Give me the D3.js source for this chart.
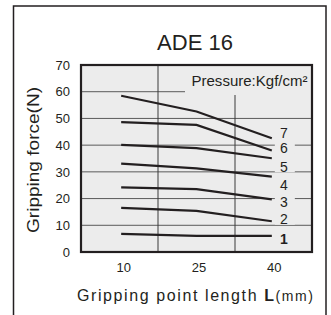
<!DOCTYPE html>
<html>
<head>
<meta charset="utf-8">
<script src="https://cdn.jsdelivr.net/npm/d3@7"></script>
<style>
  body { margin: 0; background: #fff; }
  svg { display: block; font-family: Arial, "Liberation Sans", sans-serif; }
  .tick text { fill: #231f20; }
</style>
</head>
<body>
<svg id="chart" width="331" height="315"></svg>
<script>
// data
var lengths = [10, 25, 40];
var xTicks = [10, 25, 40];
var yTicks = [0, 10, 20, 30, 40, 50, 60, 70];
var pressures = ["1", "2", "3", "4", "5", "6", "7"];
var force1 = [6.8, 6.0, 6.0];
var force2 = [16.5, 15.4, 11.5];
var force3 = [24.2, 23.5, 19.7];
var force4 = [33.1, 31.3, 28.2];
var force5 = [40.1, 38.9, 35.1];
var force6 = [48.6, 47.6, 38.0];
var force7 = [58.5, 52.6, 42.6];
var forces = [force1, force2, force3, force4, force5, force6, force7];

// label nudges in px (layout only)
var labelNudge = [2.5, -2, 3, 8.5, 8.5, -2.5, -5.5];

var svg = d3.select("#chart"),
    margin = {top: 65, right: 19, bottom: 63, left: 81},
    width = +svg.attr("width") - margin.left - margin.right,
    height = +svg.attr("height") - margin.top - margin.bottom;

var ink = "#231f20", plotBg = "#ececec";

var x = d3.scaleLinear().domain([2, 48]).range([0, width]);
var y = d3.scaleLinear().domain([0, 70]).range([height, 0]);

// outer frame
svg.append("rect")
    .attr("x", 13.5).attr("y", 6)
    .attr("width", 312.5).attr("height", 320)
    .attr("fill", "none").attr("stroke", ink).attr("stroke-width", 1.5);

svg.append("text")
    .attr("x", 195).attr("y", 50)
    .attr("text-anchor", "middle")
    .attr("font-size", 22)
    .attr("fill", ink)
    .text("ADE 16");

var g = svg.append("g")
    .attr("transform", "translate(" + margin.left + "," + margin.top + ")");

g.append("rect")
    .attr("width", width).attr("height", height)
    .attr("fill", plotBg);

// grid
g.selectAll(".hgrid")
    .data(yTicks.filter(function(d) { return d > 0 && d < 70; }))
  .enter().append("line")
    .attr("class", "hgrid")
    .attr("x1", 0).attr("x2", width)
    .attr("y1", function(d) { return y(d); })
    .attr("y2", function(d) { return y(d); })
    .attr("stroke", "#5a5a5a").attr("stroke-width", 1);

var vgrid = [2 + 46 / 3, 2 + 92 / 3];
g.selectAll(".vgrid")
    .data(vgrid)
  .enter().append("line")
    .attr("class", "vgrid")
    .attr("x1", function(d) { return x(d); })
    .attr("x2", function(d) { return x(d); })
    .attr("y1", 0).attr("y2", height)
    .attr("stroke", "#3a3a3a").attr("stroke-width", 1);

// legend title, with background to break grid
g.append("rect")
    .attr("x", 104).attr("y", 1)
    .attr("width", width - 105).attr("height", 29)
    .attr("fill", plotBg);
g.append("text")
    .attr("x", 110.5).attr("y", 20.5)
    .attr("font-size", 14)
    .attr("fill", ink)
    .attr("textLength", 116)
    .attr("lengthAdjust", "spacingAndGlyphs")
    .text("Pressure:Kgf/cm\u00b2");

// lines
var line = d3.line()
    .x(function(d, i) { return x(lengths[i]); })
    .y(function(d) { return y(d); });

g.selectAll(".series")
    .data(forces)
  .enter().append("path")
    .attr("class", "series")
    .attr("d", line)
    .attr("fill", "none")
    .attr("stroke", ink)
    .attr("stroke-width", 2.2);

// end labels
var lab = g.selectAll(".lab")
    .data(forces)
  .enter().append("g")
    .attr("class", "lab")
    .attr("transform", function(d, i) {
      return "translate(" + (x(40) + 12) + "," + (y(d[2]) + labelNudge[i]) + ")";
    });
lab.append("rect")
    .attr("x", -9).attr("y", -5.5)
    .attr("width", 20).attr("height", 11)
    .attr("fill", plotBg);
lab.append("text")
    .attr("text-anchor", "middle")
    .attr("dy", "0.36em")
    .attr("font-size", 14)
    .attr("font-weight", function(d, i) { return i === 0 ? "bold" : "normal"; })
    .attr("fill", ink)
    .text(function(d, i) { return pressures[i]; });

// frame of the plot
g.append("rect")
    .attr("width", width).attr("height", height)
    .attr("fill", "none").attr("stroke", ink).attr("stroke-width", 2.2);

// axes
g.append("g")
    .attr("class", "axis axis--y")
    .call(d3.axisLeft(y).tickValues(yTicks).tickSize(0).tickPadding(11))
    .call(function(a) { a.select(".domain").remove(); })
    .selectAll("text")
    .attr("font-size", 13)
    .attr("font-family", "Arial, 'Liberation Sans', sans-serif");

g.append("g")
    .attr("class", "axis axis--x")
    .attr("transform", "translate(0," + height + ")")
    .call(d3.axisBottom(x).tickValues(xTicks).tickSize(0).tickPadding(11))
    .call(function(a) { a.select(".domain").remove(); })
    .selectAll("text")
    .attr("dx", 2)
    .attr("font-size", 13)
    .attr("font-family", "Arial, 'Liberation Sans', sans-serif");

// axis titles
svg.append("text")
    .attr("transform", "translate(39,160) rotate(-90)")
    .attr("text-anchor", "middle")
    .attr("font-size", 16)
    .attr("fill", ink)
    .attr("textLength", 146)
    .attr("lengthAdjust", "spacingAndGlyphs")
    .text("Gripping force(N)");

var xt = svg.append("text")
    .attr("x", 77).attr("y", 300.5)
    .attr("font-size", 16)
    .attr("fill", ink)
    .attr("textLength", 236)
    .attr("lengthAdjust", "spacing");
xt.append("tspan").text("Gripping point length ");
xt.append("tspan").attr("font-weight", "bold").text("L");
xt.append("tspan").attr("font-size", 14).text("(mm)");
</script>
</body>
</html>
